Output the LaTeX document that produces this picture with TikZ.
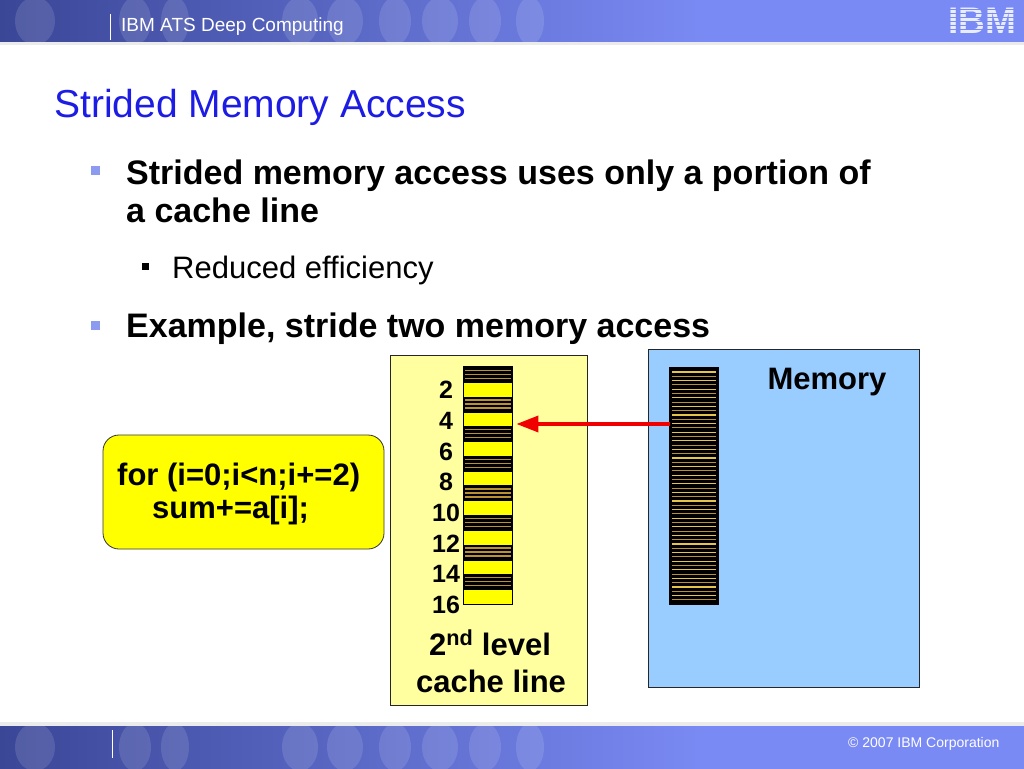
\documentclass[tikz,border=0pt]{standalone}
\usepackage{fontspec}
\setmainfont{Liberation Sans}
\usetikzlibrary{arrows.meta}
\definecolor{band}{RGB}{122,138,244}
\definecolor{banddark}{RGB}{58,70,150}
\definecolor{titleblue}{RGB}{28,28,228}
\definecolor{bulletblue}{RGB}{140,155,240}
\definecolor{cachebg}{RGB}{255,255,160}
\definecolor{codeyellow}{RGB}{255,255,0}
\definecolor{membg}{RGB}{153,204,255}
\definecolor{gold}{RGB}{185,145,50}
\definecolor{goldlight}{RGB}{230,195,75}
\definecolor{arrowred}{RGB}{240,0,0}
\definecolor{logowhite}{RGB}{232,236,255}
\tikzset{
  fs/.style={font=\fontsize{#1}{#1}\selectfont},
  fsb/.style={font=\fontsize{#1}{#1}\selectfont\bfseries},
  txt/.style={inner sep=0pt, anchor=base west, text=black},
  bulletsq/.style={fill=bulletblue, draw=none, minimum size=9pt, inner sep=0pt},
  subsq/.style={fill=black, draw=none, minimum size=7pt, inner sep=0pt},
  codebox/.style={draw=black!80, fill=codeyellow, rounded corners=16pt, line width=0.8pt, inner sep=0pt},
  cachebox/.style={draw=black!85, fill=cachebg, line width=0.8pt, inner sep=0pt},
  membox/.style={draw=black!85, fill=membg, line width=0.8pt, inner sep=0pt},
  stripbox/.style={inner sep=0pt, line width=0.8pt},
  num/.style={inner sep=0pt, anchor=center, font=\fontsize{25}{25}\selectfont\bfseries},
  redarrow/.style={draw=arrowred, line width=3.5pt, -{Triangle[length=22pt,width=16pt]}},
  blob/.style={fill=white, opacity=0.12},
}
\begin{document}
\begin{tikzpicture}[x=1pt,y=-1pt]
\useasboundingbox (0,0) rectangle (1024,768);
\fill[white] (0,0) rectangle (1024,768);
% header band
\fill[band] (0,0) rectangle (1024,42);
\begin{scope}
  \clip (0,0) rectangle (1024,42);
  \shade[left color=banddark, right color=band] (-1,0) rectangle (700,42);
  \foreach \cx/\rx in {35/20,135/16,175/14,300/18,345/18,395/16,440/18,485/16,530/14}
    \fill[blob] (\cx,21) ellipse ({\rx} and 24);
\end{scope}
\fill[black!8] (0,42) rectangle (1024,45);
\draw[white,line width=1pt] (110,14) -- (110,40);
\node[txt, text=white, fs=19] (hdr) at (121,32) {IBM ATS Deep Computing};
% IBM logo
\node[inner sep=0pt, text=logowhite, fsb=37] (logo) at (982,21) {IBM};
\foreach \ly in {5.5,9.5,13.5,17.5,21.5,25.5,29.5,33.5}
  \draw[band,line width=1.3pt] (944,\ly) -- (1020,\ly);
% footer band
\fill[black!8] (0,722) rectangle (1024,726);
\fill[band] (0,726) rectangle (1024,769);
\begin{scope}
  \clip (0,726) rectangle (1024,768);
  \shade[left color=banddark, right color=band] (-1,726) rectangle (700,769);
  \foreach \cx/\rx in {35/20,135/16,175/14,300/18,345/18,395/16,440/18,485/16,530/14}
    \fill[blob] (\cx,747) ellipse ({\rx} and 24);
\end{scope}
\draw[white,line width=1pt] (112,730) -- (112,758);
\node[txt, text=white, fs=14] (ftr) at (848,747) {© 2007 IBM Corporation};
% title
\node[txt, text=titleblue, fs=39] (title) at (54,117) {Strided Memory Access};
% bullets
\node[bulletsq] (b1) at (95,170) {};
\node[txt, fsb=34] (l1a) at (126,184) {Strided memory access uses only a portion of};
\node[txt, fsb=34] (l1b) at (126,222) {a cache line};
\node[subsq] (s1) at (145.5,266) {};
\node[txt, fs=31] (l2) at (172,278) {Reduced efficiency};
\node[bulletsq] (b2) at (95,325) {};
\node[txt, fsb=34] (l3) at (126,337) {Example, stride two memory access};
% code box
\node[codebox, minimum width=281pt, minimum height=114pt] (code) at (243.5,492) {};
\node[txt, fsb=31] (code1) at (117,485) {for (i=0;i<n;i+=2)};
\node[txt, fsb=31] (code2) at (152,518) {sum+=a[i];};
% cache box
\node[cachebox, minimum width=197pt, minimum height=350pt] (cache) at (488.5,530) {};
\node[stripbox, fill=codeyellow, minimum width=48pt, minimum height=237pt] (cstrip) at (488,485.5) {};
\foreach \k in {0,...,7} {
  \pgfmathsetmacro\yt{367+29.6*\k}
  \fill[black] (464,\yt) rectangle (512,{\yt+16});
  \foreach \o in {3.5,7.5,11.5}
    \draw[gold,line width=1.3pt] (465,{\yt+\o}) -- (511,{\yt+\o});
}
\draw[black,line width=0.8pt] (cstrip.north west) rectangle (cstrip.south east);
\foreach \n [count=\k from 0] in {2,4,...,16}
  \node[num] (n\n) at (446,{390+30.7*\k}) {\n};
\node[inner sep=0pt, anchor=base, fsb=31] (lev) at (490,655) {2\textsuperscript{nd} level};
\node[inner sep=0pt, anchor=base, fsb=31] (cl) at (491,692) {cache line};
% memory box
\node[membox, minimum width=271pt, minimum height=338pt] (mem) at (783.5,518) {};
\node[stripbox, fill=black, minimum width=48pt, minimum height=236pt] (mstrip) at (694,486) {};
\foreach \j in {0,...,53} {
  \pgfmathsetmacro\yy{372+4.3*\j}
  \pgfmathtruncatemacro\pp{mod(\j,2)}
  \ifnum\pp=0
    \draw[goldlight,line width=1.1pt] (672,\yy) -- (716,\yy);
  \else
    \draw[gold,line width=1.1pt] (672,\yy) -- (716,\yy);
  \fi
}
\draw[black,line width=0.8pt] (mstrip.north west) rectangle (mstrip.south east);
\node[inner sep=0pt, anchor=base, fsb=31] (memlab) at (827,389) {Memory};
% arrow
\coordinate (ay) at (0,424);
\draw[redarrow, shorten >=4pt] (mstrip.west |- ay) -- (cstrip.east |- ay);
\end{tikzpicture}
\end{document}
